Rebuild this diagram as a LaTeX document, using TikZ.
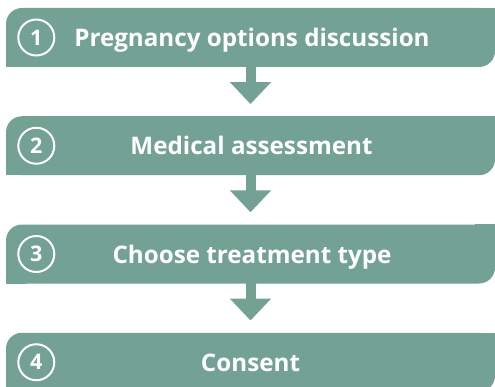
\documentclass[tikz,border=0pt]{standalone}
\usepackage{fontspec}
\setmainfont{Open Sans}
\usetikzlibrary{arrows.meta,calc}
\definecolor{sage}{RGB}{115,161,147}
\tikzset{
  stepbox/.style={fill=sage, rounded corners=16pt, minimum width=489pt, minimum height=59pt, inner sep=0pt},
  steptext/.style={text=white, inner sep=0pt, anchor=base, font=\fontsize{24.2}{28}\selectfont\bfseries},
  numcirc/.style={circle, draw=white, line width=2pt, minimum size=36pt, inner sep=0pt, text=white, font=\fontsize{21.5}{26}\selectfont\bfseries},
  blockarrow/.style={draw=sage, line width=10pt, -{Triangle[width=40pt,length=22pt]}, shorten >=12pt, shorten <=-1pt}
}
\newcommand{\squarecorners}[1]{%
  \fill[sage] (#1.north east) rectangle ++(-20pt,-20pt);
  \fill[sage] (#1.south west) rectangle ++(20pt,20pt);
}
\begin{document}
\begin{tikzpicture}[x=1pt,y=1pt]
\useasboundingbox (0,0) rectangle (495,386);
\node[stepbox] (b1) at (250.5,348.5) {};
\node[stepbox] (b2) at (250.5,240.25) {};
\node[stepbox] (b3) at (250.5,132) {};
\node[stepbox] (b4) at (250.5,23.75) {};
\squarecorners{b1}
\squarecorners{b2}
\squarecorners{b3}
\squarecorners{b4}
\node[steptext] (t1) at ($(b1.center)+(1.5,-9)$) {Pregnancy options discussion};
\node[steptext] (t2) at ($(b2.center)+(1,-9)$) {Medical assessment};
\node[steptext] (t3) at ($(b3.center)+(1.5,-9)$) {Choose treatment type};
\node[steptext] (t4) at ($(b4.center)+(0,-9)$) {Consent};
\node[numcirc] (n1) at ($(b1.west)+(30.5,0)$) {1};
\node[numcirc] (n2) at ($(b2.west)+(30.5,0)$) {2};
\node[numcirc] (n3) at ($(b3.west)+(30.5,0)$) {3};
\node[numcirc] (n4) at ($(b4.west)+(30.5,0)$) {4};
\draw[blockarrow] (b1.south) -- (b2.north);
\draw[blockarrow] (b2.south) -- (b3.north);
\draw[blockarrow] (b3.south) -- (b4.north);
\end{tikzpicture}
\end{document}
